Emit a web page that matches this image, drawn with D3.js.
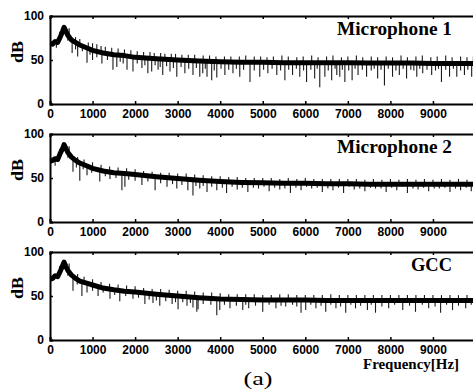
<!DOCTYPE html>
<html><head><meta charset="utf-8">
<script src="https://cdn.jsdelivr.net/npm/d3@7"></script>
<style>
html,body{margin:0;padding:0;background:#fff;}
svg{display:block;}
.tick text{font-family:"Liberation Sans",Arial,sans-serif;font-weight:bold;font-size:12px;fill:#000;}
</style></head>
<body>
<script>
// ---- data ----
const xTickValues = [0,1000,2000,3000,4000,5000,6000,7000,8000,9000];
const yTickValues = [0,50,100];
const panelTitles = ["Microphone 1","Microphone 2","GCC"];
const trendFreq = [0,60,120,180,240,300,330,370,420,500,600,700,800,900,1000,1250,1500,1750,2000,2500,3000,3500,4000,4500,5000,5500,6000,6500,7000,7500,8000,8500,9000,9500,10000];
const mic1Trend = [69,68,71,70,76,83,87,83,78,73,70,67,65,63,61,58,56,55,53,51.5,50,49,48,47.5,47.5,47,47,47,47,46.5,46.5,46.5,46,46,46];
const mic2Trend = [69,70,72,71,78,84,88,84,79,74,70,67,65,63,61,58,56,55,54,51.5,49.5,47.5,46,45,44.5,44,44,43.5,43.5,43,43,43,43,43,43];
const gccTrend  = [69,70,73,72,78,85,88.5,84,79,74,70,67,65.5,64,62.5,59,57,55.5,54.5,52,50,48,46.5,46,45.5,45.5,45.5,45,45,45,45,45,45,45,45];
// deep downward spikes [frequency, lowest dB]
const mic1Down = [[150,64],[520,58],[650,54],[870,47],[1000,50],[1220,46],[1480,39],[1570,42],[1810,39],[1950,37],[2160,41],[2300,35],[2390,37],[2540,39],[2650,33],[2820,37],[2980,31],[3170,35],[3360,33],[3520,31],[3590,35],[3690,31],[3800,27],[3920,30],[4110,33],[4300,35],[4460,31],[4700,25],[4930,31],[5120,35],[5330,33],[5520,27],[5700,33],[5870,31],[6030,25],[6220,29],[6340,19],[6460,31],[6620,27],[6740,33],[6810,31],[6930,25],[7100,27],[7240,33],[7440,31],[7700,29],[7860,21],[8050,31],[8210,33],[8380,29],[8620,31],[8760,35],[8970,33],[9200,25],[9390,31],[9560,31],[9740,33],[9910,31]];
const mic2Down = [[120,64],[540,57],[700,47],[870,53],[1170,46],[1410,49],[1690,36],[1760,40],[2160,42],[2470,36],[2750,40],[2980,38],[3240,36],[3360,30],[3520,38],[3690,34],[3920,36],[4150,33],[4400,37],[4650,34],[4900,38],[5150,35],[5400,37],[5650,33],[5900,36],[6150,38],[6400,34],[6650,36],[6900,33],[7150,37],[7400,35],[7650,38],[7900,34],[8150,36],[8400,33],[8650,37],[8900,35],[9150,38],[9400,34],[9650,36],[9900,35]];
const gccDown  = [[540,56],[750,50],[870,54],[1130,50],[1410,47],[1640,44],[1950,47],[2230,41],[2420,42],[2580,39],[2870,41],[3010,35],[3220,39],[3360,37],[3450,32],[3480,35],[3920,28],[3990,34],[4230,36],[4530,34],[4670,36],[5000,32],[5310,36],[5540,38],[5900,31],[6010,34],[6250,36],[6480,32],[6720,36],[6950,31],[7180,36],[7460,34],[7650,31],[7960,36],[8290,34],[8590,32],[8900,36],[9180,31],[9460,34],[9770,36]];
// shallow downward spikes [frequency, lowest dB]
const mic1Fine = [[300,78],[420,72],[600,62],[760,60],[940,56],[1100,53],[1350,50],[1650,48],[1720,46],[2050,46],[2230,44],[2470,44],[2590,42],[2740,43],[2900,41],[3080,42],[3260,40],[3440,41],[3650,40],[3860,38],[4020,40],[4200,39],[4380,40],[4550,39],[4800,38],[5020,39],[5220,40],[5420,38],[5610,39],[5790,40],[5960,38],[6130,39],[6280,40],[6540,38],[6700,40],[6870,39],[7020,38],[7170,40],[7340,39],[7550,38],[7620,40],[7780,39],[7950,40],[8130,38],[8300,40],[8480,39],[8550,38],[8690,40],[8860,39],[9060,38],[9130,40],[9300,39],[9480,40],[9650,38],[9820,39],[9980,40]];
const mic2Fine = [[300,80],[420,73],[620,62],[780,60],[980,56],[1300,52],[1550,50],[1850,48],[2000,47],[2300,46],[2600,44],[2880,43],[3100,42],[3430,41],[3600,41],[3800,40],[4050,39],[4280,40],[4520,39],[4780,39],[5030,40],[5280,39],[5520,38],[5780,39],[6030,40],[6280,39],[6530,38],[6780,39],[7030,40],[7280,38],[7530,39],[7780,38],[8030,39],[8280,40],[8530,38],[8780,39],[9030,38],[9280,39],[9530,38],[9780,39]];
const gccFine  = [[300,80],[420,73],[640,63],[1000,56],[1250,54],[1520,51],[1780,50],[2080,48],[2330,46],[2500,45],[2720,44],[2950,43],[3120,43],[3300,42],[3600,41],[3780,40],[4100,40],[4380,39],[4600,40],[4830,39],[5150,40],[5430,39],[5700,40],[5800,38],[6130,40],[6370,39],[6600,40],[6830,38],[7070,40],[7300,39],[7550,40],[7800,38],[8100,40],[8450,39],[8750,40],[9050,38],[9320,40],[9600,39],[9900,40]];
// upward fuzz [frequency, highest dB]
const mic1Up = [[230,82],[450,86],[600,76],[700,74],[900,70],[1000,69],[1100,68],[1200,66],[1300,65],[1450,64],[1600,63],[1750,62],[1900,61],[2050,60],[2200,59],[2350,59],[2450,58],[2600,58],[2700,57],[2850,57],[2950,57],[3100,56],[3250,56],[3400,56],[3600,55],[3750,55],[3900,54],[4100,54],[4250,54],[4450,54],[4600,55],[4800,54],[4950,54],[5100,53],[5250,54],[5450,55],[5600,54],[5800,53],[5950,54],[6150,55],[6300,53],[6500,54],[6650,55],[6850,53],[7000,54],[7200,55],[7350,53],[7550,54],[7700,53],[7900,54],[8050,53],[8250,55],[8400,53],[8600,54],[8750,55],[8950,53],[9100,54],[9300,55],[9450,53],[9650,54],[9800,53],[9950,54]];
const mic2Up = [[230,83],[450,86],[650,74],[800,71],[1000,68],[1200,65],[1400,63],[1600,62],[1800,61],[2000,60],[2200,58],[2400,57],[2600,56],[2800,56],[3000,55],[3200,55],[3400,54],[3600,53],[3800,52],[4000,52],[4200,51],[4400,51],[4600,50],[4800,50],[5000,50],[5200,50],[5400,49],[5600,50],[5800,49],[6000,50],[6200,49],[6400,49],[6600,49],[6800,49],[7000,49],[7200,49],[7400,48],[7600,49],[7800,48],[8000,49],[8200,48],[8400,49],[8600,48],[8800,49],[9000,48],[9200,49],[9400,48],[9600,49],[9800,48]];
const gccUp  = [[230,84],[450,87],[650,75],[800,72],[1000,69],[1200,66],[1400,64],[1600,63],[1800,62],[2000,61],[2200,59],[2400,58],[2600,58],[2800,57],[3000,56],[3200,56],[3400,55],[3600,54],[3800,54],[4000,53],[4200,52],[4400,52],[4600,52],[4800,52],[5000,51],[5200,51],[5400,52],[5600,52],[5800,51],[6000,51],[6200,51],[6400,51],[6600,52],[6800,51],[7000,51],[7200,51],[7400,51],[7600,51],[7800,51],[8000,51],[8200,51],[8400,51],[8600,51],[8800,51],[9000,51],[9200,51],[9400,51],[9600,51],[9800,51]];

const panels = [
  {title: panelTitles[0], trend: mic1Trend, spikes: [mic1Down, mic1Fine, mic1Up], top: 16, tlen: 115},
  {title: panelTitles[1], trend: mic2Trend, spikes: [mic2Down, mic2Fine, mic2Up], top: 134, tlen: 115},
  {title: panelTitles[2], trend: gccTrend,  spikes: [gccDown, gccFine, gccUp],  top: 252, tlen: 41}
];

const W = 473, H = 392, panelH = 88, left = 50;
const svg = d3.select("body").append("svg").attr("width", W).attr("height", H);
const x = d3.scaleLinear().domain([0,10000]).range([left, 475.5]);

svg.append("defs").append("clipPath").attr("id","clip")
  .append("rect").attr("x", left).attr("y", -200).attr("width", W - left).attr("height", 800);

panels.forEach((p, i) => {
  const y = d3.scaleLinear().domain([0,100]).range([p.top + panelH, p.top]);
  const g = svg.append("g");
  const trendAt = d3.scaleLinear().domain(trendFreq).range(p.trend);

  const dg = g.append("g").attr("clip-path","url(#clip)");
  p.spikes.forEach(list => {
    dg.append("g").selectAll("line").data(list).enter().append("line")
      .attr("x1", d => x(d[0])).attr("x2", d => x(d[0]))
      .attr("y1", d => y(trendAt(d[0]))).attr("y2", d => y(d[1]))
      .attr("stroke", "#1a1a1a").attr("stroke-width", 1.1);
  });
  const line = d3.line().x((d, k) => x(trendFreq[k])).y(d => y(d));
  dg.append("path").datum(p.trend).attr("d", line)
    .attr("fill","none").attr("stroke","#000").attr("stroke-width",5).attr("stroke-linejoin","round");

  // axes
  const xb = d3.axisBottom(x).tickValues(xTickValues).tickSize(-3).tickPadding(5).tickFormat(d3.format("d"));
  const gx = g.append("g").attr("transform", `translate(0,${p.top + panelH})`).call(xb);
  gx.select(".domain").attr("stroke-width", 2);
  const xt = d3.axisTop(x).tickValues(xTickValues).tickSize(-3).tickFormat("");
  const gxt = g.append("g").attr("transform", `translate(0,${p.top})`).call(xt);
  gxt.select(".domain").attr("stroke-width", 2);
  const yl = d3.axisLeft(y).tickValues(yTickValues).tickSize(-3).tickPadding(6);
  const gy = g.append("g").attr("transform", `translate(${left},0)`).call(yl);
  gy.select(".domain").attr("stroke-width", 2);
  g.selectAll(".tick line").attr("stroke-width", 1.5);

  g.append("text").attr("transform", `translate(23,${p.top + 36}) rotate(-90)`)
    .attr("text-anchor","middle").attr("font-family","Liberation Serif, Times New Roman, serif")
    .attr("font-weight","bold").attr("font-size",16)
    .attr("textLength",22).attr("lengthAdjust","spacingAndGlyphs").text("dB");

  g.append("text").attr("x", 452).attr("y", p.top + 19).attr("text-anchor","end")
    .attr("font-family","Liberation Serif, Times New Roman, serif").attr("font-weight","bold")
    .attr("font-size",18).attr("textLength", p.tlen).attr("lengthAdjust","spacingAndGlyphs")
    .text(p.title);
});

svg.append("text").attr("x", 459).attr("y", 369).attr("text-anchor","end")
  .attr("font-family","Liberation Serif, Times New Roman, serif").attr("font-weight","bold")
  .attr("font-size",15).attr("textLength",96).attr("lengthAdjust","spacingAndGlyphs")
  .text("Frequency[Hz]");
svg.append("text").attr("x", 258).attr("y", 385).attr("text-anchor","middle")
  .attr("font-family","Liberation Serif, Times New Roman, serif")
  .attr("font-size",18).attr("textLength",29).attr("lengthAdjust","spacingAndGlyphs")
  .text("(a)");
</script>
</body></html>
